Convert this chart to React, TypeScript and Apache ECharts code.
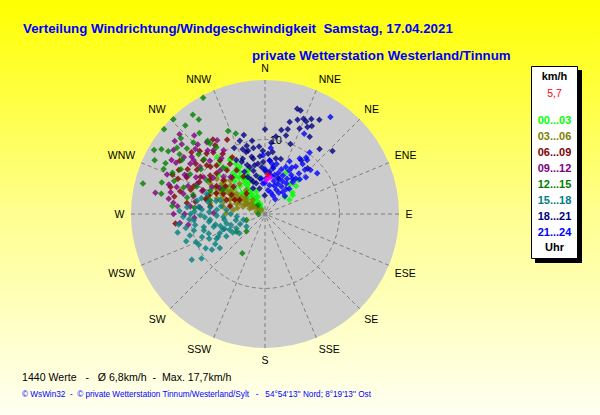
import React, { useEffect, useRef } from "react";
import * as echarts from "echarts";

// ---------- texts ----------
const titleLine = "Verteilung Windrichtung/Windgeschwindigkeit  Samstag, 17.04.2021";
const subtitleLine = "private Wetterstation Westerland/Tinnum";
const summaryLine = "1440 Werte   -   Ø 6,8km/h  -  Max. 17,7km/h";
const creditLine = "© WsWin32  -  © private Wetterstation Tinnum/Westerland/Sylt   -   54°54'13'' Nord; 8°19'13'' Ost";
const legendUnit = "km/h";
const legendCurrent = "5,7";
const legendFooter = "Uhr";

// ---------- axes ----------
const directionLabels = ["N", "NNE", "NE", "ENE", "E", "ESE", "SE", "SSE", "S", "SSW", "SW", "WSW", "W", "WNW", "NW", "NNW"];
const radiusMax = 18;
const radiusLabelValues = [10];

// ---------- series (time bins) ----------
const timeBins = ["00...03", "03...06", "06...09", "09...12", "12...15", "15...18", "18...21", "21...24"];
const binColors = ["#00ff00", "#808000", "#800000", "#800080", "#008000", "#008080", "#000080", "#0000ff"];

// each point: [speed km/h, direction deg]
const bin0003 = [
  [0.9, 327], [1.7, 327], [2.5, 327], [3.3, 326], [4.1, 326], [4.9, 327], [5.9, 328], [7.2, 328],
  [2.1, 312], [3.3, 310], [4.2, 311], [5.3, 310], [8.6, 327], [6.3, 339], [6.3, 27], [5.6, 48],
  [3.5, 49], [4.5, 56], [7.2, 332], [2.5, 338], [10.0, 320], [3.2, 339], [5.0, 352], [5.4, 332],
  [4.7, 52], [1.2, 320], [6.5, 322], [6.0, 317], [1.5, 335], [7.6, 298], [7.0, 300], [8.8, 328],
  [1.3, 328], [2.1, 328], [2.9, 327], [3.7, 327], [4.5, 328], [5.4, 328], [6.6, 329], [7.8, 330],
  [3.0, 318], [4.0, 316], [5.0, 318], [6.0, 324], [7.0, 322], [8.0, 320], [4.8, 334], [5.8, 336],
  [6.4, 44], [5.2, 40], [3.8, 60], [9.2, 318], [6.8, 305], [5.8, 303], [8.2, 310],
];
const bin0306 = [
  [0.7, 318], [1.5, 310], [2.3, 308], [3.1, 307], [3.9, 306], [4.7, 306], [5.5, 306], [6.3, 305],
  [2.2, 290], [3.1, 288], [4.1, 290], [5.1, 292], [6.1, 292], [7.1, 293], [2.5, 319], [4.1, 322],
  [5.3, 320], [4.3, 277], [5.7, 280], [7.5, 281], [6.8, 298], [8.4, 299], [5.2, 271], [1.2, 285],
  [1.2, 309], [3.7, 293], [5.5, 300], [7.1, 305], [2.8, 300], [4.5, 298], [6.0, 310], [3.5, 313],
  [1.8, 304], [2.6, 302], [3.4, 303], [4.2, 302], [5.0, 302], [5.8, 301], [6.6, 300], [3.0, 296],
  [4.0, 297], [5.0, 296], [6.4, 296], [7.4, 298], [7.8, 290], [6.8, 288], [5.8, 286], [4.8, 285],
  [8.2, 285], [3.8, 282], [2.0, 296], [7.0, 310], [6.5, 314], [8.0, 306],
];
const bin0609 = [
  [11.2, 333], [11.4, 324], [12.2, 314], [12.9, 310], [13.5, 302], [13.5, 293], [13.2, 286], [12.1, 264],
  [10.6, 278], [10.9, 303], [11.0, 311], [9.7, 311], [9.4, 320], [8.2, 325], [7.0, 327], [5.8, 330],
  [8.7, 302], [7.2, 309], [5.6, 311], [3.7, 318], [8.9, 291], [7.1, 293], [5.5, 290], [3.9, 299],
  [10.3, 291], [7.4, 278], [4.8, 282], [10.0, 300], [11.6, 295], [8.5, 310], [7.8, 319], [11.3, 316],
  [9.0, 305], [9.8, 296], [10.5, 288], [8.0, 288], [7.5, 300], [6.5, 305], [6.2, 296], [9.2, 315],
  [10.2, 310], [12.0, 300], [12.6, 292], [11.8, 285], [10.8, 320], [9.9, 325], [8.8, 330], [12.2, 325],
  [6.6, 318], [5.2, 300], [4.5, 295], [11.5, 306], [13.0, 297], [8.2, 284], [9.5, 280], [12.4, 281],
];
const bin0912 = [
  [15.7, 313], [15.6, 309], [14.6, 310], [11.8, 327], [12.4, 321], [12.8, 313], [15.0, 281], [13.1, 279],
  [12.4, 277], [12.3, 270], [11.5, 264], [10.4, 262], [11.7, 296], [12.1, 304], [13.3, 305], [12.0, 307],
  [10.8, 306], [9.6, 301], [9.9, 284], [11.3, 284], [11.0, 321], [10.2, 327], [10.3, 314], [8.4, 314],
  [6.8, 317], [8.8, 276], [6.9, 271], [10.1, 276], [12.4, 287], [13.5, 287], [10.0, 294], [8.0, 297],
  [13.8, 300], [14.2, 292], [13.0, 316], [14.2, 318], [11.0, 290], [9.0, 290], [8.5, 305], [7.5, 312],
  [10.5, 298], [12.0, 296], [13.0, 283], [11.8, 275], [10.8, 270], [9.5, 267], [14.5, 300], [15.0, 305],
  [9.5, 322], [11.5, 318], [12.5, 308], [7.0, 300],
];
const bin1215 = [
  [17.7, 332], [17.7, 316], [17.7, 310], [16.5, 324], [15.5, 325], [17.2, 300], [16.4, 302], [15.5, 303],
  [14.0, 321], [12.2, 336], [11.5, 340], [14.9, 294], [14.2, 281], [16.9, 284], [13.6, 294], [14.0, 305],
  [13.7, 310], [13.6, 315], [12.5, 322], [12.0, 322], [11.1, 324], [11.4, 298], [11.5, 288], [9.9, 292],
  [7.6, 284], [6.1, 210], [2.6, 252], [1.5, 322], [8.4, 318], [10.7, 282], [13.3, 303], [14.8, 307],
  [3.4, 227], [0.9, 270], [4.5, 238], [12.8, 298], [13.0, 290], [15.2, 312], [16.0, 318], [15.0, 297],
  [12.0, 312], [10.5, 305], [9.0, 300], [11.0, 312], [14.5, 287], [16.5, 296], [10.0, 285], [8.0, 293],
  [6.5, 300], [9.5, 275], [12.5, 275],
];
const bin1518 = [
  [11.6, 238], [10.4, 235], [7.6, 233], [9.8, 245], [10.5, 254], [11.7, 263], [9.5, 261], [8.0, 251],
  [6.6, 247], [5.2, 246], [4.3, 243], [3.0, 236], [7.4, 264], [5.6, 266], [8.7, 269], [10.0, 270],
  [9.3, 281], [10.5, 275], [7.4, 277], [6.5, 275], [5.2, 276], [7.1, 256], [5.3, 256], [8.5, 255],
  [3.8, 265], [8.1, 267], [7.3, 243], [6.0, 240], [4.3, 233], [9.0, 276], [8.3, 289], [6.3, 287],
  [9.6, 265], [3.0, 255], [6.0, 250], [6.8, 258], [7.6, 262], [8.4, 258], [9.0, 250], [8.2, 246],
  [7.0, 244], [6.2, 255], [5.5, 262], [6.5, 268], [7.5, 272], [8.5, 274], [9.5, 272], [10.2, 266],
  [9.8, 257], [10.8, 260], [11.0, 268], [5.8, 250], [4.8, 252], [4.0, 258], [4.6, 270], [7.8, 282],
  [8.8, 284], [6.8, 285], [6.0, 280], [9.2, 240], [8.6, 236], [7.8, 239], [10.0, 248], [11.2, 251],
  [12.0, 258], [11.5, 272], [5.0, 240], [3.6, 248],
];
const bin1821 = [
  [14.8, 17], [14.7, 19], [13.4, 19], [13.6, 24], [14.2, 26], [14.6, 30], [13.0, 26], [12.4, 22],
  [13.4, 28], [11.8, 15], [11.5, 11], [10.9, 15], [11.4, 0], [11.4, 40], [12.4, 47], [9.1, 355],
  [9.2, 341], [7.6, 348], [6.6, 342], [6.3, 334], [4.6, 340], [3.5, 348], [2.5, 359], [5.7, 6],
  [7.6, 11], [8.4, 7], [7.8, 355], [7.7, 16], [10.4, 341], [9.5, 345], [8.8, 345], [8.2, 332],
  [5.3, 347], [6.3, 356], [8.7, 34], [8.4, 43], [8.7, 343], [7.9, 347], [6.7, 348], [5.5, 335],
  [4.3, 344], [7.0, 358], [8.1, 3], [6.4, 10], [7.7, 336], [5.1, 20], [5.0, 338], [6.0, 345],
  [7.0, 340], [8.0, 338], [9.0, 350], [10.0, 350], [6.8, 352], [5.8, 0], [4.8, 352], [8.5, 358],
  [9.6, 5], [10.5, 8], [7.2, 5], [3.8, 335], [9.8, 335], [11.0, 345], [10.0, 20], [12.8, 15],
  [12.0, 30], [13.8, 22],
];
const bin2124 = [
  [15.7, 34], [12.0, 26], [10.2, 36], [9.4, 36], [8.9, 52], [8.9, 5], [7.9, 358], [7.2, 5],
  [6.9, 13], [6.9, 24], [7.6, 33], [8.4, 37], [7.1, 40], [6.3, 34], [5.7, 25], [5.4, 14],
  [4.8, 2], [4.1, 356], [3.9, 9], [4.4, 23], [5.0, 35], [5.7, 41], [3.6, 25], [3.8, 39],
  [2.7, 23], [4.7, 44], [4.8, 354], [5.1, 22], [6.3, 41], [9.2, 38], [6.7, 29], [8.5, 46],
  [6.2, 10], [4.3, 31], [3.2, 7], [4.0, 18], [4.6, 15], [5.2, 10], [5.8, 18], [6.4, 20],
  [5.0, 28], [5.6, 32], [6.0, 38], [4.4, 40], [3.4, 33], [3.0, 15], [6.6, 45], [7.2, 30],
  [7.8, 25], [8.0, 42], [4.2, 0], [5.5, 5], [6.0, 0], [6.8, 8], [3.6, 48], [2.4, 35],
  [7.4, 48], [8.8, 32],
];
const binData = [bin0003, bin0306, bin0609, bin0912, bin1215, bin1518, bin1821, bin2124];

const recentPoints = [[4.8, 5], [4.6, 2], [5.0, 8]];
const currentPoint = [[5.3, 4]];
const calmPoint = [[0, 0]];

const FONT = "'Liberation Sans', Arial, sans-serif";
const CENTER = [265, 214];
const RADIUS = 134;

export default function App() {
  const ref = useRef<HTMLDivElement>(null);

  useEffect(() => {
    if (!ref.current) return;
    const chart = echarts.init(ref.current, null, { renderer: "svg" });

    const scatterSeries = binData.map((d, i) => ({
      type: "scatter",
      name: timeBins[i],
      coordinateSystem: "polar",
      polarIndex: 1,
      data: d,
      symbol: "diamond",
      symbolSize: 6.5,
      itemStyle: { color: binColors[i] },
      silent: true,
      z: 3,
    }));

    const legendItems = timeBins.map((t, i) => ({
      type: "text",
      x: 554.5,
      y: 119.5 + i * 16,
      style: {
        text: t,
        fill: binColors[i],
        font: `bold 11px ${FONT}`,
        align: "center",
        verticalAlign: "middle",
      },
      z: 12,
    }));

    const baseAngle = {
      type: "value",
      min: 0,
      max: 360,
      interval: 22.5,
      startAngle: 90,
      clockwise: true,
      axisLine: { show: false },
      axisTick: { show: false },
    };

    chart.setOption({
      animation: false,
      backgroundColor: {
        type: "linear",
        x: 0, y: 0, x2: 0, y2: 1,
        colorStops: [
          { offset: 0, color: "#ffff00" },
          { offset: 0.5, color: "#ffff8c" },
          { offset: 1, color: "#fffff2" },
        ],
      },
      textStyle: { fontFamily: FONT },
      polar: [
        { center: CENTER, radius: RADIUS },
        { center: CENTER, radius: RADIUS },
      ],
      angleAxis: [
        {
          ...baseAngle,
          polarIndex: 0,
          z: 0,
          axisLabel: { show: false },
          splitLine: { show: false },
          splitArea: { show: true, areaStyle: { color: ["#cccccc"] } },
        },
        {
          ...baseAngle,
          polarIndex: 1,
          z: 1,
          axisLabel: {
            margin: 6.5,
            color: "#000",
            fontSize: 10.5,
            fontFamily: FONT,
            formatter: (v: number) => {
              const i = Math.round(v / 22.5);
              return i >= directionLabels.length ? "" : directionLabels[i];
            },
          },
          splitLine: { show: true, lineStyle: { color: "#7f7f7f", width: 1, type: [4, 3] } },
          splitArea: { show: false },
        },
      ],
      radiusAxis: [
        {
          polarIndex: 0,
          type: "value",
          min: 0,
          max: radiusMax,
          z: 0,
          axisLine: { show: false },
          axisTick: { show: false },
          axisLabel: { show: false },
          splitLine: { show: false },
        },
        {
          polarIndex: 1,
          type: "value",
          min: 0,
          max: radiusMax,
          interval: 10,
          z: 1,
          axisLine: { show: false },
          axisTick: { show: false },
          axisLabel: {
            margin: -17,
            color: "#000",
            fontSize: 11,
            fontFamily: FONT,
            formatter: (v: number) => (radiusLabelValues.includes(v) ? String(v) : ""),
          },
          splitLine: {
            show: true,
            lineStyle: { color: ["#7f7f7f", "#7f7f7f", "rgba(0,0,0,0)"], width: 1, type: [4, 3] },
          },
        },
      ],
      series: [
        ...scatterSeries,
        {
          type: "scatter",
          name: "calm",
          coordinateSystem: "polar",
          polarIndex: 1,
          data: calmPoint,
          symbol: "rect",
          symbolSize: 5,
          itemStyle: { color: "#808080" },
          silent: true,
          z: 2,
        },
        {
          type: "scatter",
          name: "recent",
          coordinateSystem: "polar",
          polarIndex: 1,
          data: recentPoints,
          symbol: "diamond",
          symbolSize: 6,
          itemStyle: { color: "#ff00ff" },
          silent: true,
          z: 4,
        },
        {
          type: "scatter",
          name: "current",
          coordinateSystem: "polar",
          polarIndex: 1,
          data: currentPoint,
          symbol: "diamond",
          symbolSize: 6,
          itemStyle: { color: "#ff0000" },
          silent: true,
          z: 5,
        },
      ],
      graphic: [
        {
          type: "text", x: 23, y: 28,
          style: { text: titleLine, fill: "#0000ff", font: `bold 13.3px ${FONT}`, align: "left", verticalAlign: "middle" },
        },
        {
          type: "text", x: 252, y: 55.5,
          style: { text: subtitleLine, fill: "#0000ff", font: `bold 13.3px ${FONT}`, align: "left", verticalAlign: "middle" },
        },
        {
          type: "text", x: 22, y: 377,
          style: { text: summaryLine, fill: "#000000", font: `10.6px ${FONT}`, align: "left", verticalAlign: "middle" },
        },
        {
          type: "text", x: 22, y: 394,
          style: { text: creditLine, fill: "#0000ff", font: `8.2px ${FONT}`, align: "left", verticalAlign: "middle" },
        },
        {
          type: "rect", shape: { x: 535, y: 70, width: 47, height: 193 },
          style: { fill: "#000000" }, z: 10,
        },
        {
          type: "rect", shape: { x: 531.5, y: 66.5, width: 46, height: 192 },
          style: { fill: "#ffffff", stroke: "#000000", lineWidth: 1 }, z: 11,
        },
        {
          type: "text", x: 554.5, y: 76,
          style: { text: legendUnit, fill: "#000000", font: `bold 11px ${FONT}`, align: "center", verticalAlign: "middle" },
          z: 12,
        },
        {
          type: "text", x: 554.5, y: 92.5,
          style: { text: legendCurrent, fill: "#ff0000", font: `10.5px ${FONT}`, align: "center", verticalAlign: "middle" },
          z: 12,
        },
        ...legendItems,
        {
          type: "text", x: 554.5, y: 246.5,
          style: { text: legendFooter, fill: "#000000", font: `bold 11px ${FONT}`, align: "center", verticalAlign: "middle" },
          z: 12,
        },
      ],
    });

    return () => chart.dispose();
  }, []);

  return (
    <div
      ref={ref}
      style={{ position: "fixed", left: 0, top: 0, width: 600, height: 415 }}
    />
  );
}
